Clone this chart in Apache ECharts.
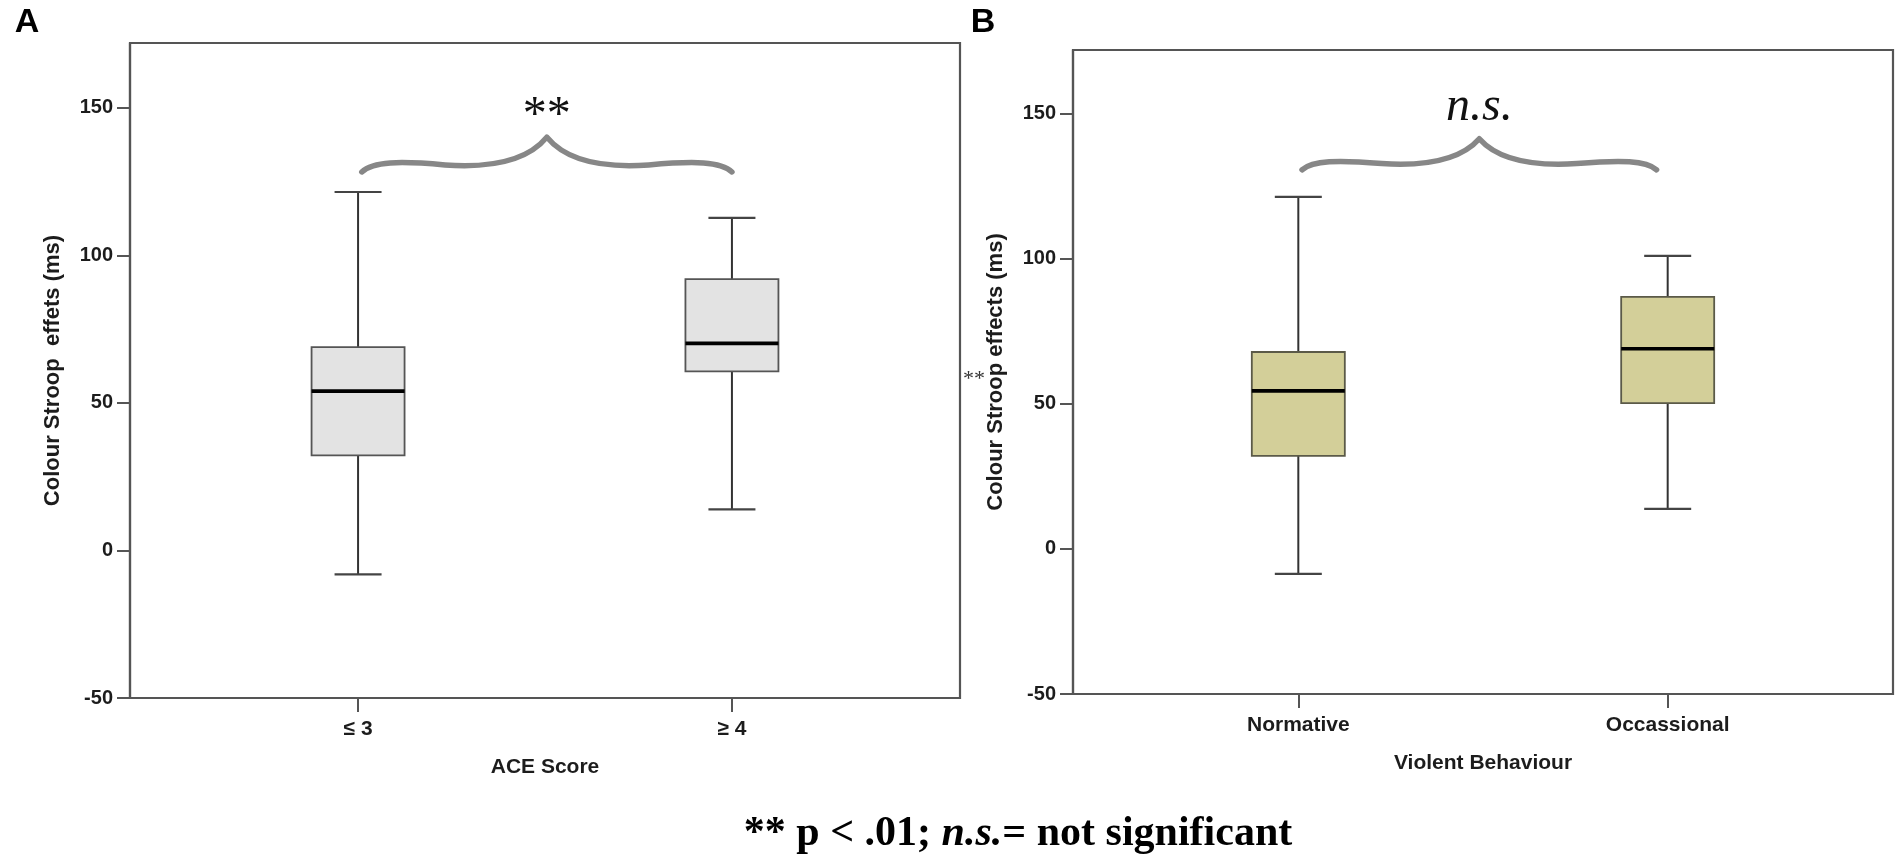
<!DOCTYPE html>
<html><head><meta charset="utf-8">
<script src="https://cdn.jsdelivr.net/npm/echarts@6/dist/echarts.min.js"></script>
<style>html,body{margin:0;padding:0;background:#fff}#c{width:1904px;height:858px}</style>
</head><body><div id="c"></div>
<script>
// ---- data ----
const categoriesA = ['≤ 3', '≥ 4'];
const categoriesB = ['Normative', 'Occassional'];
// [lower whisker, Q1, median, Q3, upper whisker]
const statsA = [[-8.1, 32.2, 54.0, 68.9, 121.5], [13.9, 60.7, 70.2, 92.0, 112.7]];
const statsB = [[-8.6, 32.1, 54.5, 67.9, 121.4], [13.8, 50.3, 69.0, 86.9, 101.0]];
const yTicks = [-50, 0, 50, 100, 150];
const xTicks = [1, 2];
// brace annotation: [from category, to category, end level, peak level]
const braceA = [1.01, 2.0, 128.3, 140.1];
const braceB = [1.01, 1.97, 130.7, 141.4];
const sigLabels = ['**', 'n.s.'];

const AX = '#555';
const TXT = '#1c1c1c';
const SANS = '"Liberation Sans", Arial, sans-serif';
const SERIF = '"Liberation Serif", "Times New Roman", serif';

function boxRender(fill, border) {
  return function (params, api) {
    const x = api.value(0);
    const c = v => api.coord([x, v]);
    const pMin = c(api.value(1)), pQ1 = c(api.value(2)), pMed = c(api.value(3)),
          pQ3 = c(api.value(4)), pMax = c(api.value(5));
    const cx = pMin[0];
    const hw = 46.5, cw = 23.5;
    const wl = {stroke: '#333', lineWidth: 2};
    return {type: 'group', children: [
      {type: 'line', shape: {x1: cx, y1: pMax[1], x2: cx, y2: pQ3[1]}, style: wl},
      {type: 'line', shape: {x1: cx, y1: pQ1[1], x2: cx, y2: pMin[1]}, style: wl},
      {type: 'line', shape: {x1: cx - cw, y1: pMax[1], x2: cx + cw, y2: pMax[1]}, style: {stroke: '#444', lineWidth: 2.2}},
      {type: 'line', shape: {x1: cx - cw, y1: pMin[1], x2: cx + cw, y2: pMin[1]}, style: {stroke: '#444', lineWidth: 2.2}},
      {type: 'rect', shape: {x: cx - hw, y: pQ3[1], width: 2 * hw, height: pQ1[1] - pQ3[1]},
        style: {fill: fill, stroke: border, lineWidth: 1.8}},
      {type: 'line', shape: {x1: cx - hw, y1: pMed[1], x2: cx + hw, y2: pMed[1]}, style: {stroke: '#000', lineWidth: 3.6}}
    ]};
  };
}

function braceRender(label, font, textOffset) {
  return function (params, api) {
    const L = api.coord([api.value(0), api.value(2)]);
    const R = api.coord([api.value(1), api.value(2)]);
    const P = api.coord([(api.value(0) + api.value(1)) / 2, api.value(3)]);
    const h = (R[0] - L[0]) / 2;
    const H = L[1] - P[1];
    const lp = (fx, fy) => (L[0] + fx * h).toFixed(2) + ',' + (L[1] - fy * H).toFixed(2);
    const rp = (fx, fy) => (R[0] - fx * h).toFixed(2) + ',' + (L[1] - fy * H).toFixed(2);
    const d = 'M' + lp(0, 0) +
      ' C' + lp(0.06, 0.3) + ' ' + lp(0.2, 0.32) + ' ' + lp(0.45, 0.2) +
      ' C' + lp(0.72, 0.1) + ' ' + lp(0.9, 0.35) + ' ' + lp(1, 1) +
      ' C' + rp(0.9, 0.35) + ' ' + rp(0.72, 0.1) + ' ' + rp(0.45, 0.2) +
      ' C' + rp(0.2, 0.32) + ' ' + rp(0.06, 0.3) + ' ' + rp(0, 0);
    return {type: 'group', children: [
      {type: 'path', shape: {pathData: d},
        style: {fill: null, stroke: '#878787', lineWidth: 5.5, lineCap: 'round', lineJoin: 'round'}},
      {type: 'text', x: P[0], y: P[1] - textOffset,
        style: {text: label, font: font, fill: '#111', align: 'center', verticalAlign: 'middle',
          textAlign: 'center', textVerticalAlign: 'middle'}}
    ]};
  };
}

function yAxis(gridIndex) {
  return {
    type: 'value', gridIndex: gridIndex, min: -50, max: 172,
    name: gridIndex === 0 ? 'Colour Stroop  effets (ms)' : 'Colour Stroop effects (ms)',
    nameLocation: 'middle', nameRotate: 90, nameGap: 66,
    nameTextStyle: {fontFamily: SANS, fontWeight: 'bold', fontSize: 22, color: TXT},
    axisLine: {show: true, onZero: false, lineStyle: {color: AX, width: 2.2}},
    axisTick: {show: true, length: 13, customValues: yTicks, lineStyle: {color: AX, width: 2}},
    axisLabel: {customValues: yTicks, margin: 17, fontFamily: SANS, fontWeight: 'bold', fontSize: 20, color: TXT},
    splitLine: {show: false}
  };
}

function xAxis(gridIndex, cats, title) {
  return {
    type: 'value', gridIndex: gridIndex, min: 0.39, max: 2.61,
    name: title, nameLocation: 'middle', nameGap: 59,
    nameTextStyle: {fontFamily: SANS, fontWeight: 'bold', fontSize: 21, color: TXT},
    axisLine: {show: true, onZero: false, lineStyle: {color: AX, width: 2.2}},
    axisTick: {show: true, length: 14, customValues: xTicks, lineStyle: {color: AX, width: 2}},
    axisLabel: {customValues: xTicks, margin: 21, fontFamily: SANS, fontWeight: 'bold', fontSize: 21, color: TXT,
      formatter: v => cats[Math.round(v) - 1]},
    splitLine: {show: false}
  };
}

const chart = echarts.init(document.getElementById('c'));
chart.setOption({
  backgroundColor: '#fff',
  animation: false,
  grid: [
    {left: 130, top: 43, width: 830, height: 655, show: true, borderColor: AX, borderWidth: 2.2, backgroundColor: 'transparent'},
    {left: 1073, top: 50, width: 820, height: 644, show: true, borderColor: AX, borderWidth: 2.2, backgroundColor: 'transparent'}
  ],
  xAxis: [xAxis(0, categoriesA, 'ACE Score'), xAxis(1, categoriesB, 'Violent Behaviour')],
  yAxis: [yAxis(0), yAxis(1)],
  series: [
    {type: 'custom', xAxisIndex: 0, yAxisIndex: 0, encode: {x: 0, y: [1, 2, 3, 4, 5]},
      data: statsA.map((s, i) => [xTicks[i]].concat(s)), renderItem: boxRender('#e3e3e3', '#555')},
    {type: 'custom', xAxisIndex: 1, yAxisIndex: 1, encode: {x: 0, y: [1, 2, 3, 4, 5]},
      data: statsB.map((s, i) => [xTicks[i]].concat(s)), renderItem: boxRender('#d3cf99', '#5b5a48')},
    {type: 'custom', xAxisIndex: 0, yAxisIndex: 0, encode: {x: [0, 1], y: [2, 3]},
      data: [braceA], renderItem: braceRender(sigLabels[0], '48px ' + SERIF, 21)},
    {type: 'custom', xAxisIndex: 1, yAxisIndex: 1, encode: {x: [0, 1], y: [2, 3]},
      data: [braceB], renderItem: braceRender(sigLabels[1], 'italic 48px ' + SERIF, 31)}
  ],
  graphic: [
    {type: 'text', x: 27, y: 23, style: {text: 'A', font: 'bold 34px ' + SANS, fill: '#000',
      align: 'center', verticalAlign: 'middle', textAlign: 'center', textVerticalAlign: 'middle'}},
    {type: 'text', x: 983, y: 23, style: {text: 'B', font: 'bold 34px ' + SANS, fill: '#000',
      align: 'center', verticalAlign: 'middle', textAlign: 'center', textVerticalAlign: 'middle'}},
    {type: 'text', x: 974, y: 379, style: {text: '**', font: '22px ' + SERIF, fill: '#333',
      align: 'center', verticalAlign: 'middle', textAlign: 'center', textVerticalAlign: 'middle'}},
    {type: 'text', x: 1018, y: 834, style: {
      text: '{a|** p < .01; }{b|n.s.}{a|= not significant}',
      align: 'center', verticalAlign: 'middle', textAlign: 'center', textVerticalAlign: 'middle',
      rich: {
        a: {fontFamily: SERIF, fontWeight: 'bold', fontSize: 42, fill: '#000', color: '#000'},
        b: {fontFamily: SERIF, fontWeight: 'bold', fontStyle: 'italic', fontSize: 42, fill: '#000', color: '#000'}
      }}}
  ]
});
</script>
</body></html>
